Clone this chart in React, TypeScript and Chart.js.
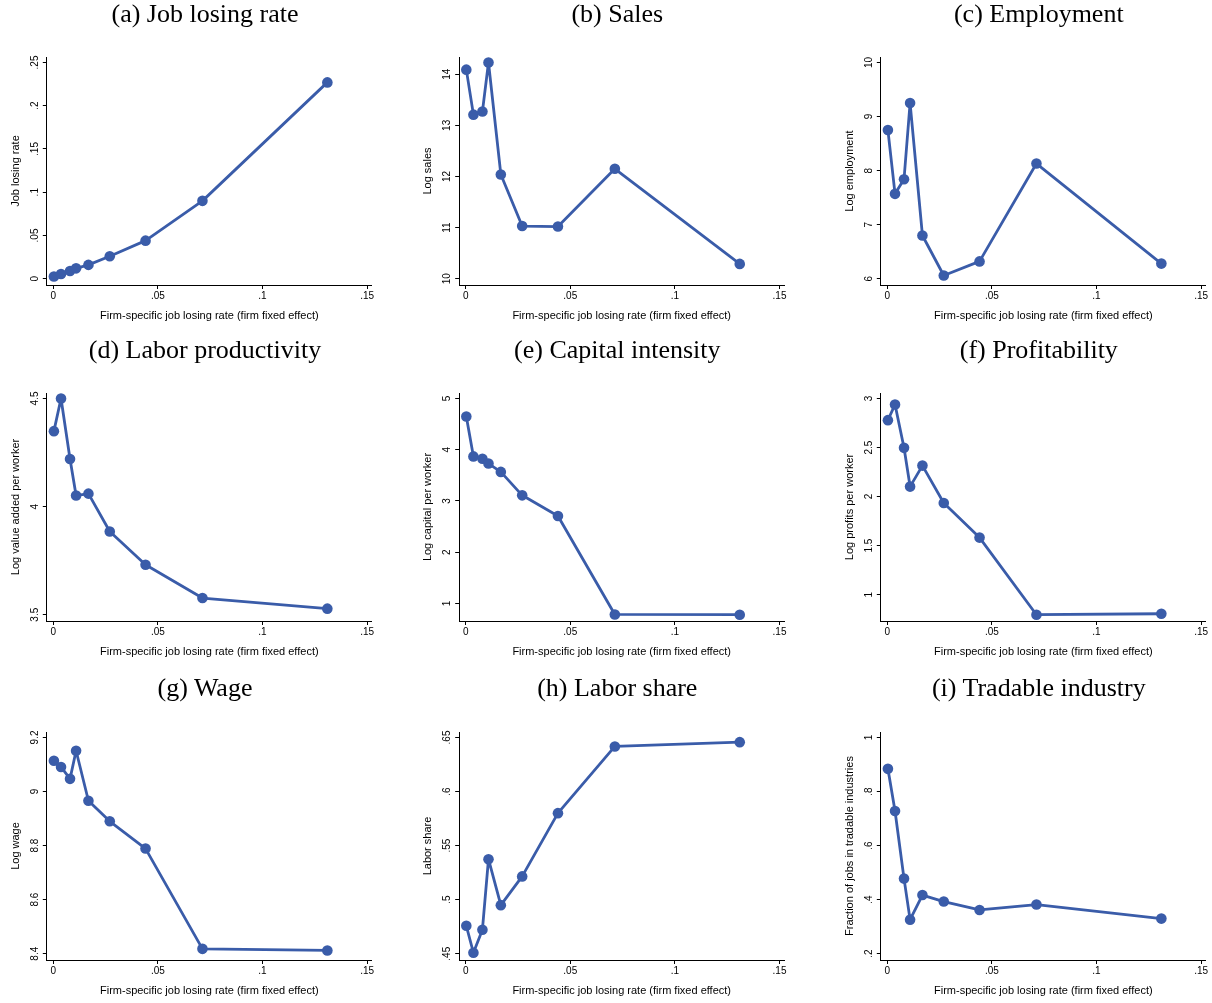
import React, { useEffect, useRef } from "react";
import { Chart, registerables } from "chart.js";

Chart.register(...registerables);

// ---------- data ----------
const xValues = [0.0003, 0.0037, 0.008, 0.0109, 0.0168, 0.027, 0.0441, 0.0713, 0.131];
const xTicks = [0, 0.05, 0.1, 0.15];
const xTickLabels = ["0", ".05", ".1", ".15"];
const xTitle = "Firm-specific job losing rate (firm fixed effect)";

const panelTitles = [
  "(a) Job losing rate",
  "(b) Sales",
  "(c) Employment",
  "(d) Labor productivity",
  "(e) Capital intensity",
  "(f) Profitability",
  "(g) Wage",
  "(h) Labor share",
  "(i) Tradable industry",
];

const yTitles = [
  "Job losing rate",
  "Log sales",
  "Log employment",
  "Log value added per worker",
  "Log capital per worker",
  "Log profits per worker",
  "Log wage",
  "Labor share",
  "Fraction of jobs in tradable industries",
];

const jobLosingRate = [0.0025, 0.0055, 0.009, 0.012, 0.016, 0.026, 0.044, 0.09, 0.227];
const logSales = [14.09, 13.21, 13.27, 14.23, 12.04, 11.03, 11.02, 12.15, 10.29];
const logEmployment = [8.75, 7.57, 7.84, 9.25, 6.8, 6.06, 6.32, 8.13, 6.28];
const logValueAddedPerWorker = [4.349, 4.5, 4.22, 4.051, 4.06, 3.885, 3.731, 3.577, 3.528];
const logCapitalPerWorker = [4.648, 3.87, 3.825, 3.73, 3.567, 3.11, 2.707, 0.785, 0.78];
const logProfitsPerWorker = [2.779, 2.939, 2.497, 2.102, 2.316, 1.935, 1.582, 0.796, 0.806];
const logWage = [9.114, 9.091, 9.047, 9.151, 8.966, 8.89, 8.789, 8.418, 8.412];
const laborShare = [0.4758, 0.4509, 0.4722, 0.5374, 0.4949, 0.5215, 0.58, 0.6417, 0.6457];
const tradableShare = [0.884, 0.728, 0.478, 0.326, 0.417, 0.393, 0.362, 0.382, 0.33];

const yTicksA = [0, 0.05, 0.1, 0.15, 0.2, 0.25];
const yTickLabelsA = ["0", ".05", ".1", ".15", ".2", ".25"];
const yTicksB = [10, 11, 12, 13, 14];
const yTickLabelsB = ["10", "11", "12", "13", "14"];
const yTicksC = [6, 7, 8, 9, 10];
const yTickLabelsC = ["6", "7", "8", "9", "10"];
const yTicksD = [3.5, 4, 4.5];
const yTickLabelsD = ["3.5", "4", "4.5"];
const yTicksE = [1, 2, 3, 4, 5];
const yTickLabelsE = ["1", "2", "3", "4", "5"];
const yTicksF = [1, 1.5, 2, 2.5, 3];
const yTickLabelsF = ["1", "1.5", "2", "2.5", "3"];
const yTicksG = [8.4, 8.6, 8.8, 9, 9.2];
const yTickLabelsG = ["8.4", "8.6", "8.8", "9", "9.2"];
const yTicksH = [0.45, 0.5, 0.55, 0.6, 0.65];
const yTickLabelsH = [".45", ".5", ".55", ".6", ".65"];
const yTicksI = [0.2, 0.4, 0.6, 0.8, 1];
const yTickLabelsI = [".2", ".4", ".6", ".8", "1"];

const panelValues = [
  jobLosingRate, logSales, logEmployment,
  logValueAddedPerWorker, logCapitalPerWorker, logProfitsPerWorker,
  logWage, laborShare, tradableShare,
];
const panelTicks = [yTicksA, yTicksB, yTicksC, yTicksD, yTicksE, yTicksF, yTicksG, yTicksH, yTicksI];
const panelTickLabels = [
  yTickLabelsA, yTickLabelsB, yTickLabelsC, yTickLabelsD, yTickLabelsE,
  yTickLabelsF, yTickLabelsG, yTickLabelsH, yTickLabelsI,
];

// ---------- layout / style ----------
const LINE_COLOR = "#3a5ca9";
const SANS = "'Liberation Sans', Arial, sans-serif";
const SERIF = "'Liberation Serif', 'Times New Roman', serif";

const CELL_W = 404;
const COL_LEFT = [0, 404, 808];
const AREA_LEFT = [46.8, 55.2, 72.8];
const AREA_W = 325;
const ROW_AREA_TOP = [57, 393.3, 731.7];
const AREA_TOP_IN_CANVAS = 57;
const AREA_H = 228;
const XAXIS_H = 50;
const CANVAS_H = AREA_TOP_IN_CANVAS + AREA_H + XAXIS_H;
const TITLE_CX = [205, 213.3, 230.8];
const TITLE_CY = [16.2, 352.5, 690];
const YTITLE_X = [16, 23.6, 41.7];
const YTICK_X = [35.5, 43.5, 61.7];

const X_MIN = -0.0031;
const X_MAX = 0.15225;
const DATA_H = 216.7;
const PAD_TOP = 5.5;
const PAD_BOTTOM = 6.3;

function Panel({ index }: { index: number }) {
  const ref = useRef<HTMLCanvasElement | null>(null);
  const col = index % 3;
  const row = Math.floor(index / 3);

  useEffect(() => {
    if (!ref.current) return;
    const values = panelValues[index];
    const ticks = panelTicks[index];
    const tickLabels = panelTickLabels[index];
    const lo = Math.min(ticks[0], ...values);
    const hi = Math.max(ticks[ticks.length - 1], ...values);
    const ppu = DATA_H / (hi - lo);
    const yMin = lo - PAD_BOTTOM / ppu;
    const yMax = hi + PAD_TOP / ppu;
    const areaLeft = AREA_LEFT[col];
    const padRight = CELL_W - areaLeft - AREA_W;

    const yLabelPlugin = {
      id: "yTickLabels" + index,
      afterDraw(chart: any) {
        const s = chart.scales.y;
        const ctx = chart.ctx;
        ctx.save();
        ctx.font = "10px " + SANS;
        ctx.fillStyle = "#000";
        ctx.textAlign = "center";
        ctx.textBaseline = "middle";
        ticks.forEach((v, i) => {
          const y = s.getPixelForValue(v);
          ctx.save();
          ctx.translate(YTICK_X[col], y);
          ctx.rotate(-Math.PI / 2);
          ctx.fillText(tickLabels[i], 0, 0);
          ctx.restore();
        });
        ctx.restore();
      },
    };

    const chart = new Chart(ref.current, {
      type: "line",
      data: {
        datasets: [
          {
            data: xValues.map((x, i) => ({ x, y: values[i] })),
            borderColor: LINE_COLOR,
            backgroundColor: LINE_COLOR,
            borderWidth: 2.8,
            borderJoinStyle: "round",
            borderCapStyle: "round",
            pointRadius: 5.3,
            pointBackgroundColor: LINE_COLOR,
            pointBorderWidth: 0,
            tension: 0,
            clip: false as any,
          },
        ],
      },
      options: {
        animation: false,
        responsive: false,
        maintainAspectRatio: false,
        layout: { padding: { left: 0, top: AREA_TOP_IN_CANVAS, right: padRight, bottom: 0 } },
        plugins: { legend: { display: false }, tooltip: { enabled: false }, title: { display: false } },
        scales: {
          x: {
            type: "linear",
            min: X_MIN,
            max: X_MAX,
            afterBuildTicks: (s: any) => {
              s.ticks = xTicks.map((v) => ({ value: v }));
            },
            afterFit: (s: any) => {
              s.height = XAXIS_H;
              s.paddingLeft = 0;
              s.paddingRight = 0;
            },
            ticks: {
              autoSkip: false,
              maxRotation: 0,
              minRotation: 0,
              padding: 1,
              color: "#000",
              font: { family: SANS, size: 10 },
              callback: (_v: any, i: number) => xTickLabels[i],
            },
            grid: { display: true, drawOnChartArea: false, drawTicks: true, tickLength: 4, color: "#000", lineWidth: 1 },
            border: { display: true, color: "#000", width: 1 },
            title: {
              display: true,
              text: xTitle,
              color: "#000",
              font: { family: SANS, size: 11 },
              padding: { top: 0, bottom: 12.4 },
            },
          },
          y: {
            type: "linear",
            min: yMin,
            max: yMax,
            afterBuildTicks: (s: any) => {
              s.ticks = ticks.map((v) => ({ value: v }));
            },
            afterFit: (s: any) => {
              s.width = areaLeft;
              s.paddingTop = 0;
              s.paddingBottom = 0;
            },
            ticks: { display: false },
            grid: { display: true, drawOnChartArea: false, drawTicks: true, tickLength: 4, color: "#000", lineWidth: 1 },
            border: { display: true, color: "#000", width: 1 },
            title: {
              display: true,
              text: yTitles[index],
              color: "#000",
              font: { family: SANS, size: 11, lineHeight: 1.2 },
              padding: { top: YTITLE_X[col] - 6.6, bottom: 0 },
            },
          },
        },
      } as any,
      plugins: [yLabelPlugin],
    });
    return () => chart.destroy();
  }, [index, col]);

  return (
    <>
      <canvas
        ref={ref}
        width={CELL_W}
        height={CANVAS_H}
        style={{
          position: "absolute",
          left: COL_LEFT[col],
          top: ROW_AREA_TOP[row] - AREA_TOP_IN_CANVAS,
          width: CELL_W,
          height: CANVAS_H,
        }}
      />
      <div
        style={{
          position: "absolute",
          left: COL_LEFT[col] + TITLE_CX[col] - 200,
          top: TITLE_CY[row] - 15.3,
          width: 400,
          textAlign: "center",
          fontFamily: SERIF,
          fontSize: 26,
          lineHeight: "26px",
          whiteSpace: "nowrap",
          color: "#000",
        }}
      >
        {panelTitles[index]}
      </div>
    </>
  );
}

export default function App() {
  return (
    <div
      style={{
        position: "absolute",
        left: 0,
        top: 0,
        width: 1212,
        height: 1003,
        overflow: "hidden",
        background: "#fff",
      }}
    >
      {panelTitles.map((_, i) => (
        <Panel key={i} index={i} />
      ))}
    </div>
  );
}
